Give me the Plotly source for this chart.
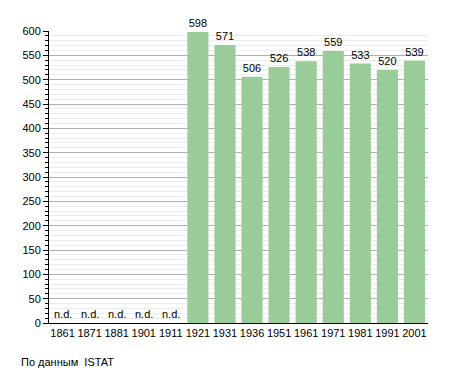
import plotly.graph_objects as go

years = ["1861", "1871", "1881", "1901", "1911", "1921", "1931", "1936",
         "1951", "1961", "1971", "1981", "1991", "2001"]
population = [None, None, None, None, None, 598, 571, 506, 526, 538, 559, 533, 520, 539]
missing_label = "n.d."
source_note = "По данным  ISTAT"

font_family = "Liberation Sans, Arial, sans-serif"

fig = go.Figure()
fig.add_trace(go.Bar(
    x=years,
    y=population,
    marker=dict(color="#99cc99", line=dict(width=0)),
    text=[("" if v is None else str(v)) for v in population],
    textposition="outside",
    textfont=dict(size=11, color="#000000", family=font_family),
    cliponaxis=False,
    hoverinfo="skip",
))

for i, v in enumerate(population):
    if v is None:
        fig.add_annotation(x=i, y=0, text=missing_label, showarrow=False,
                           yanchor="bottom", yshift=1,
                           font=dict(size=11, color="#000000", family=font_family))

fig.add_annotation(xref="paper", yref="paper", x=-0.08, y=-0.135,
                   xanchor="left", yanchor="middle", text=source_note,
                   showarrow=False,
                   font=dict(size=11, color="#000000", family=font_family))

fig.update_layout(
    width=455, height=373,
    margin=dict(l=49, r=27, t=31, b=50),
    paper_bgcolor="white",
    plot_bgcolor="white",
    showlegend=False,
    bargap=0.22,
    font=dict(family=font_family, size=11, color="#000000"),
)
fig.update_xaxes(
    type="category",
    showline=True, linecolor="#000000", linewidth=1,
    ticks="", showgrid=False,
    tickfont=dict(size=11, family=font_family),
)
fig.update_yaxes(
    range=[0, 600],
    dtick=50,
    showline=True, linecolor="#000000", linewidth=1,
    ticks="outside", ticklen=5, tickcolor="#000000",
    showgrid=True, gridcolor="#b0b0b0", gridwidth=1,
    zeroline=False,
    minor=dict(dtick=10, ticks="outside", ticklen=3, tickcolor="#000000",
               showgrid=True, gridcolor="#ececec", gridwidth=1),
    tickfont=dict(size=11, family=font_family),
)

fig.write_html("out.html", config={"displayModeBar": False},
               post_script="document.body.style.margin='0';")
